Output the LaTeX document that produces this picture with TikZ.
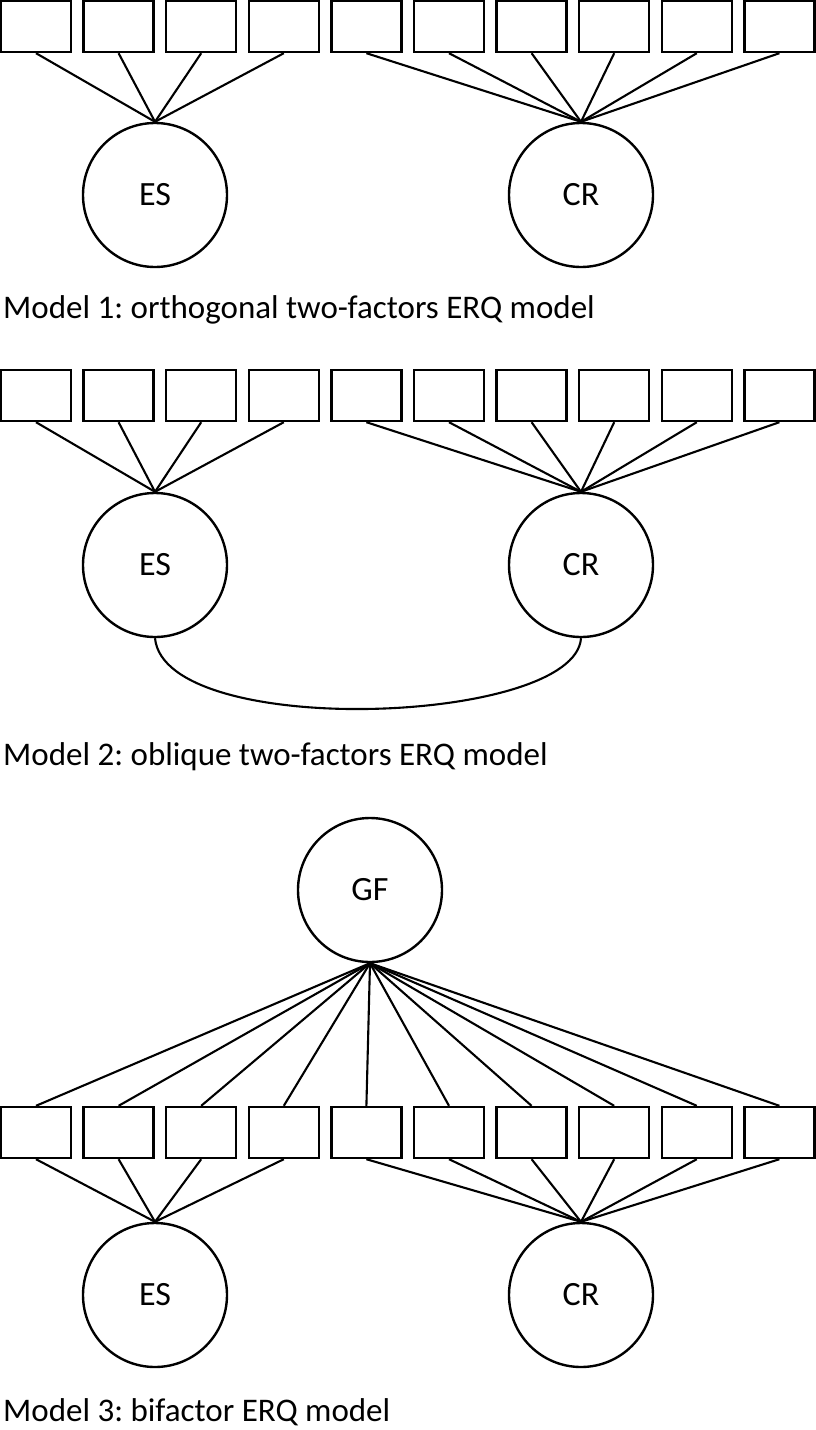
\documentclass[tikz,border=0pt]{standalone}
\usepackage{fontspec}
\setmainfont{Carlito}
\usetikzlibrary{positioning}
\frenchspacing

\begin{document}
\begin{tikzpicture}[x=1pt, y=-1pt,
  item/.style={draw, line width=2.4pt, minimum width=70pt, minimum height=51pt, inner sep=0pt},
  factor/.style={draw, circle, line width=2.4pt, minimum size=144pt, inner sep=0pt, font=\fontsize{34}{40}\selectfont},
  caption/.style={anchor=west, inner sep=0pt, font=\fontsize{33}{39}\selectfont},
  load/.style={line width=2.1pt}
]
  \useasboundingbox (0,0) rectangle (816,1430);

  % Model 1
  \foreach \i in {1,...,10}
    \node[item] (a\i) at ({36+82.6*(\i-1)}, 26.5) {};
  \node[factor] (aes) at (155,195) {ES};
  \node[factor] (acr) at (581,195) {CR};
  \foreach \i in {1,...,4} \draw[load] (a\i.south) -- (aes.north);
  \foreach \i in {5,...,10} \draw[load] (a\i.south) -- (acr.north);
  \node[caption] (acap) at (3,310) {Model 1: orthogonal two-factors ERQ model};

  % Model 2
  \foreach \i in {1,...,10}
    \node[item] (b\i) at ({36+82.6*(\i-1)}, 395.5) {};
  \node[factor] (bes) at (155,565) {ES};
  \node[factor] (bcr) at (581,565) {CR};
  \foreach \i in {1,...,4} \draw[load] (b\i.south) -- (bes.north);
  \foreach \i in {5,...,10} \draw[load] (b\i.south) -- (bcr.north);
  \draw[load] (bes.south) .. controls (165,740) and (575,725) .. (bcr.south);
  \node[caption] (bcap) at (3,757) {Model 2: oblique two-factors ERQ model};

  % Model 3
  \node[factor] (cgf) at (370,890) {GF};
  \foreach \i in {1,...,10}
    \node[item] (c\i) at ({36+82.6*(\i-1)}, 1132.5) {};
  \node[factor] (ces) at (155,1295) {ES};
  \node[factor] (ccr) at (581,1295) {CR};
  \foreach \i in {1,...,10} \draw[load] (cgf.south) -- (c\i.north);
  \foreach \i in {1,...,4} \draw[load] (c\i.south) -- (ces.north);
  \foreach \i in {5,...,10} \draw[load] (c\i.south) -- (ccr.north);
  \node[caption] (ccap) at (3,1412) {Model 3: bifactor ERQ model};
\end{tikzpicture}
\end{document}
